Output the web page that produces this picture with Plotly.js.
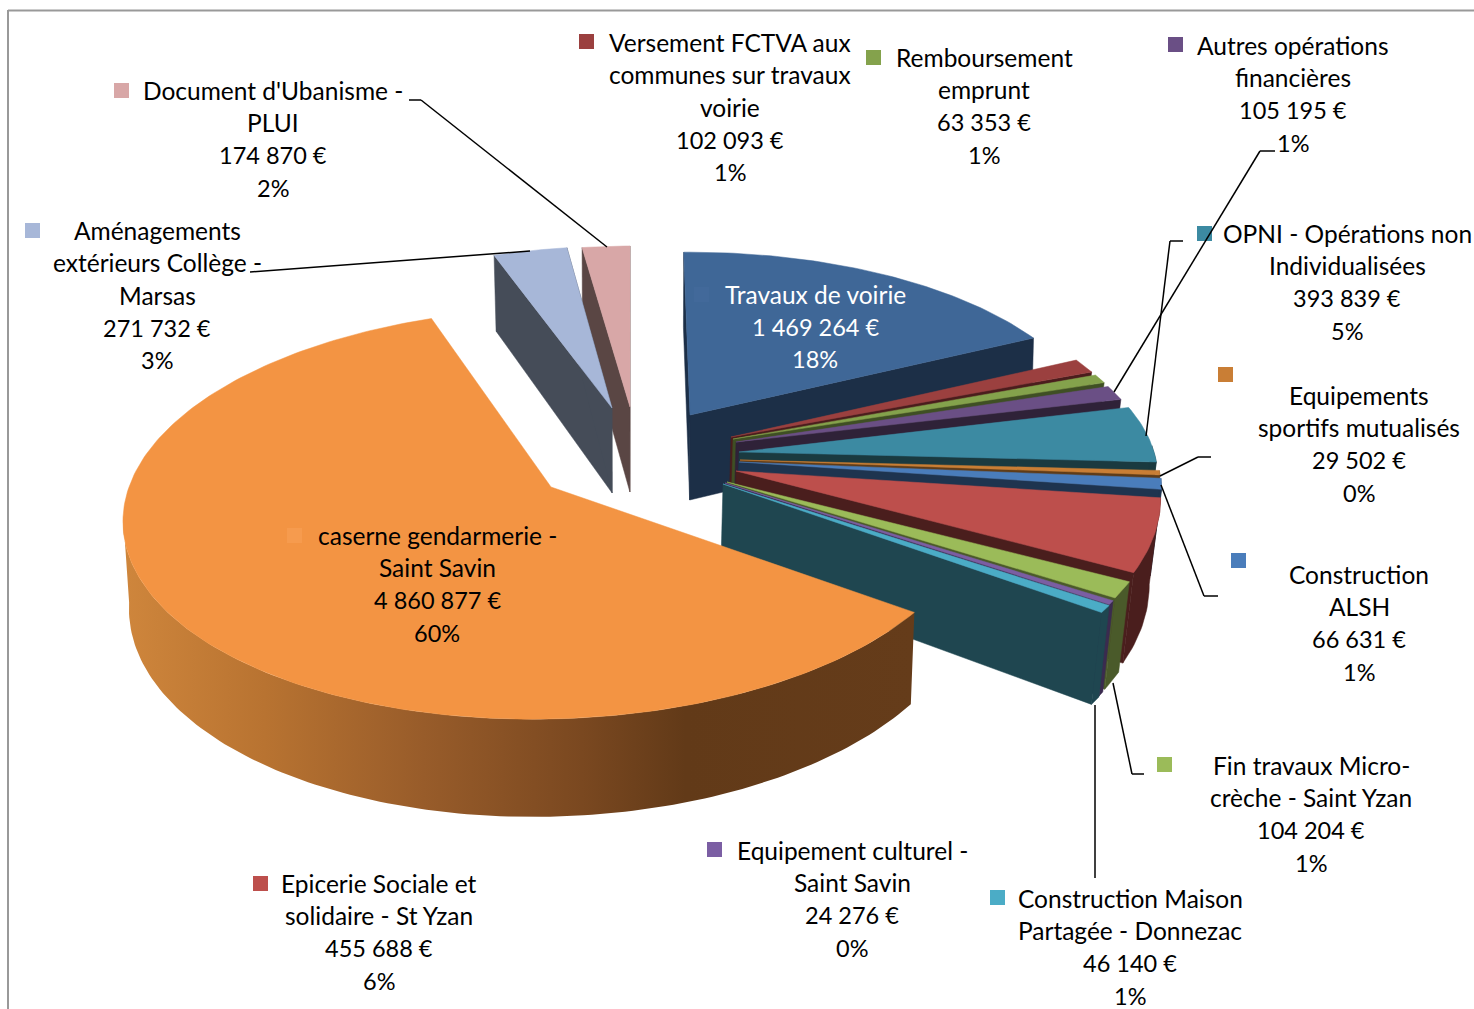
<!DOCTYPE html>
<html><head><meta charset="utf-8">
<script src="https://cdn.plot.ly/plotly-3.0.1.min.js"></script>
<style>html,body{margin:0;padding:0;background:#fff}#c{width:1474px;height:1009px}</style></head>
<body><div id="c"></div>
<script>
// ---- data ----
const categories = ["Travaux de voirie","Versement FCTVA aux communes sur travaux voirie","Remboursement emprunt","Autres opérations financières","OPNI - Opérations non Individualisées","Equipements sportifs mutualisés","Construction ALSH","Epicerie Sociale et solidaire - St Yzan","Fin travaux Micro-crèche - Saint Yzan","Equipement culturel - Saint Savin","Construction Maison Partagée - Donnezac","caserne gendarmerie - Saint Savin","Aménagements extérieurs Collège - Marsas","Document d'Ubanisme - PLUI"];
const values = [1469264,102093,63353,105195,393839,29502,66631,455688,104204,24276,46140,4860877,271732,174870];
const labelLines = [
 ["Travaux de voirie"],
 ["Versement FCTVA aux","communes sur travaux","voirie"],
 ["Remboursement","emprunt"],
 ["Autres opérations","financières"],
 ["OPNI - Opérations non","Individualisées"],
 ["Equipements","sportifs mutualisés"],
 ["Construction","ALSH"],
 ["Epicerie Sociale et","solidaire - St Yzan"],
 ["Fin travaux Micro-","crèche - Saint Yzan"],
 ["Equipement culturel -","Saint Savin"],
 ["Construction Maison","Partagée - Donnezac"],
 ["caserne gendarmerie -","Saint Savin"],
 ["Aménagements","extérieurs Collège -","Marsas"],
 ["Document d'Ubanisme -","PLUI"]];
// ---- style ----
const topColors = ["#3f6797","#9b403f","#84a24c","#6a4f85","#3c8aa2","#c97e35","#4a7dbb","#bd4f4c","#9bbb59","#7b5ea3","#4bacc6","#f39443","#a7b7d8","#d8a7a7"];
const wallColors = ["#1c2f47","#4a1d1d","#3f4f24","#2f2238","#1a3a40","#5f3c18","#1e344f","#4a1e1d","#4a5a2a","#3a2b4f","#1f4650","#7a4a20","#454c58","#5a4644"];
// ---- 3D pie projection settings (per slice) ----
const sliceCx = [690,731,733,736,739,740,739,736,727,725,723,551,612,630];
const sliceCy = [415,437,439,442,452,460,462,471,482,483,484,487,408,407];
const sliceRx = [405,407,409,410,415,417,419,421,426,426,428,422,401,403];
const sliceRy = [184,184,181,178,186,195,212,208,204,207,207,202,183,182];
const sliceSkew = [0,0,0,0,0,0,0,0,0,0,0,-16,-10,-7];
const sliceShift = [.005,.021,.021,.021,.021,.021,.021,.021,.021,.021,.021,.012,.016,.01];
const startAngle=-1, persp=.13, depth=85, vanishX=620, silhouetteAngle=262;
const paintOrder=[13,12,0,1,2,3,4,5,6,7,8,9,10,11];
const startWalls=[0,12,13];
const labelX=[815,730,984,1293,1347,1359,1359,379,1311,852,1130,437,157,273];
const labelY=[294,42,57,45,233,395,574,883,765,850,898,535,230,90];
const keyPos=[[694,287],[579,34],[866,50],[1168,37],[1197,226],[1218,367],[1231,553],[253,876],[1157,757],[707,842],[990,890],[287,528],[25,223],[114,83]];
const connectors=[
 [[409,100],[421,100],[607,247]],
 [[250,272],[530,251]],
 [[1275,151],[1260,151],[1114,392]],
 [[1183,241],[1170,241],[1146,436]],
 [[1211,457],[1198,457],[1160,476]],
 [[1218,596],[1204,596],[1161,485]],
 [[1144,774],[1132,774],[1113,683]],
 [[1095,705],[1095,878]]];

const total=values.reduce((a,b)=>a+b,0);
let acc=0; const a0=[],a1=[];
values.forEach(v=>{a0.push(startAngle+acc/total*360);acc+=v;a1.push(startAngle+acc/total*360);});
function pt(i,ang,bottom){
  const r=ang*Math.PI/180,u=Math.sin(r),v=-Math.cos(r),k=1/(1-persp*v);
  return ptk(i,u*k,v*k,k,bottom);
}
function ptk(i,uk,vk,k,bottom){
  let x=sliceCx[i]+sliceRx[i]*uk+sliceSkew[i]*vk, y=sliceCy[i]+sliceRy[i]*vk;
  if(bottom){x+=(vanishX-x)*sliceShift[i]; y+=depth*k;}
  return [x,y];
}
const apex=(i,b)=>ptk(i,0,0,1,b);
function arc(i,s,e,b){const n=Math.max(2,Math.ceil(e-s)+1),p=[];for(let j=0;j<n;j++)p.push(pt(i,s+(e-s)*j/(n-1),b));return p;}
function poly(i,pts,color,extra){
  const xs=pts.map(p=>p[0]),ys=pts.map(p=>p[1]);xs.push(xs[0]);ys.push(ys[0]);
  return Object.assign({type:'scatter',mode:'lines',x:xs,y:ys,fill:'toself',fillcolor:color,
    line:{color:color,width:0.5},name:categories[i],hoverinfo:'name',showlegend:false},extra||{});
}
const traces=[];
paintOrder.forEach(i=>{
  const C=wallColors[i],T=topColors[i];
  if(startWalls.includes(i)) traces.push(poly(i,[apex(i,0),pt(i,a0[i],0),pt(i,a0[i],1),apex(i,1)],C));
  if(i!==11) traces.push(poly(i,[apex(i,0),pt(i,a1[i],0),pt(i,a1[i],1),apex(i,1)],C));
  const s=Math.max(a0[i],88),e=Math.min(a1[i],silhouetteAngle);
  if(e>s){
    const pts=arc(i,s,e,0).concat(arc(i,s,e,1).reverse());
    if(i===11) traces.push(poly(i,pts,C,{fillgradient:{type:'horizontal',start:122,stop:915,
      colorscale:[[0,'#cf863c'],[.18,'#b87331'],[.38,'#985c2a'],[.58,'#7a4820'],[.71,'#623a18'],[1,'#653c1a']]},line:{width:0,color:C}}));
    else traces.push(poly(i,pts,C));
  }
  traces.push(poly(i,[apex(i,0)].concat(arc(i,a0[i],a1[i],0)),T));
});
// ---- annotations, keys, connectors ----
const fmt=v=>String(v).replace(/\B(?=(\d{3})+$)/g,' ')+' €';
const anns=[];
values.forEach((v,i)=>{
  const names=labelLines[i];
  const lines=names.concat([fmt(v),Math.round(v/total*100)+'%']);
  lines.forEach((t,j)=>anns.push({x:labelX[i],y:labelY[i]+j*32.55,xref:'x',yref:'y',text:t,showarrow:false,
    xanchor:'center',yanchor:'middle',font:{family:'Lato, sans-serif',size:j<names.length?24.5:23.5,color:i===0?'#ffffff':'#000000'}}));
});
const shapes=[
 {type:'line',xref:'x',yref:'y',x0:8,y0:10.5,x1:1474,y1:10.5,line:{color:'#999999',width:2}},
 {type:'line',xref:'x',yref:'y',x0:8,y0:10,x1:8,y1:1009,line:{color:'#999999',width:2}}];
keyPos.forEach((p,i)=>shapes.push({type:'rect',xref:'x',yref:'y',x0:p[0],y0:p[1],x1:p[0]+15,y1:p[1]+15,
  fillcolor:i===0?'#42699a':i===11?'#f69b4e':topColors[i],line:{width:0}}));
connectors.forEach(c=>{for(let j=0;j<c.length-1;j++)shapes.push({type:'line',xref:'x',yref:'y',
  x0:c[j][0],y0:c[j][1],x1:c[j+1][0],y1:c[j+1][1],line:{color:'#000000',width:1.5}});});
Plotly.newPlot('c',traces,{width:1474,height:1009,margin:{l:0,r:0,t:0,b:0},paper_bgcolor:'#fff',plot_bgcolor:'#fff',
  showlegend:false,hovermode:'closest',
  xaxis:{range:[0,1474],visible:false,fixedrange:true},
  yaxis:{range:[1009,0],visible:false,fixedrange:true},
  annotations:anns,shapes:shapes},{displayModeBar:false});
</script></body></html>
